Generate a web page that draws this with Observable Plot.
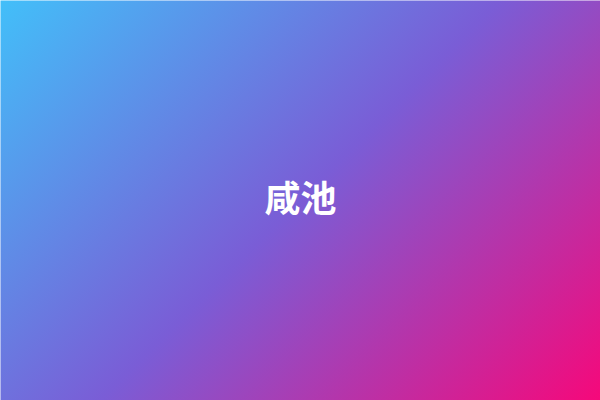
<!DOCTYPE html>
<html>
<head>
<meta charset="utf-8">
<script src="https://cdn.jsdelivr.net/npm/d3@7"></script>
<script src="https://cdn.jsdelivr.net/npm/@observablehq/plot@0.6"></script>
<style>
  html, body { margin: 0; padding: 0; background: #fff; }
  #chart svg { display: block; }
</style>
</head>
<body>
<div id="chart"></div>
<script>
// Data
const titles = ["咸池"];
const titleX = [0.5];
const titleY = [0.5];
const gradientOffsets = [0, 0.5, 1];
const gradientColors = ["#42bff9", "#7a5dd6", "#f6087a"];

const labels = titles.map((t, i) => ({text: t, x: titleX[i], y: titleY[i]}));

const W = 600, H = 400;
const plot = Plot.plot({
  width: W,
  height: H,
  margin: 0,
  x: {domain: [0, 1], axis: null},
  y: {domain: [0, 1], axis: null},
  style: {fontFamily: "'Noto Sans CJK SC', 'Noto Sans', sans-serif", background: "transparent"},
  marks: [
    Plot.frame({fill: "url(#bg-gradient)", stroke: "none"}),
    Plot.text(labels, {
      x: "x", y: "y", text: "text",
      fill: "white", fontSize: 36, fontWeight: "bold"
    })
  ]
});

// gradient definition (CSS 135deg equivalent)
const svg = d3.select(plot);
const half = (W + H) / 4;
const defs = svg.insert("defs", ":first-child");
const lg = defs.append("linearGradient")
  .attr("id", "bg-gradient")
  .attr("gradientUnits", "userSpaceOnUse")
  .attr("x1", W / 2 - half).attr("y1", H / 2 - half)
  .attr("x2", W / 2 + half).attr("y2", H / 2 + half);
gradientOffsets.forEach((o, i) => {
  lg.append("stop").attr("offset", o).attr("stop-color", gradientColors[i]);
});

document.getElementById("chart").append(plot);
</script>
</body>
</html>
